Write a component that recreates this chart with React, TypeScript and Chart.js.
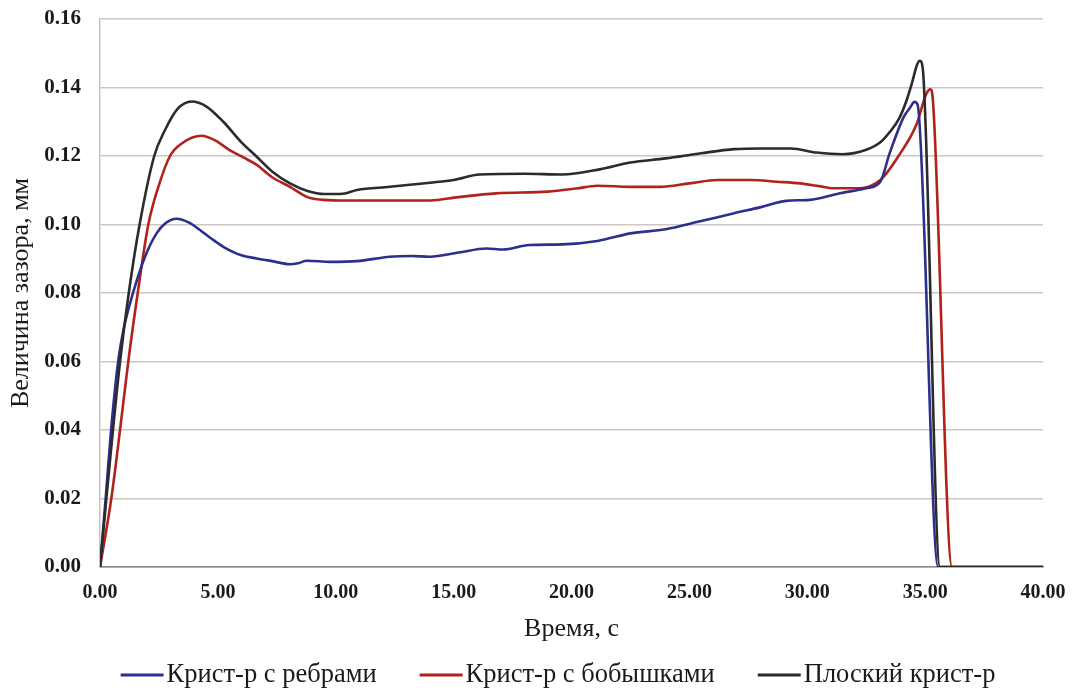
import React, { useEffect, useRef } from 'react';
import { Chart, registerables } from 'chart.js';

Chart.register(...registerables);

const FONT = "'Liberation Serif', 'Times New Roman', Times, serif";

const seriesLabels = ['Крист-р с ребрами', 'Крист-р с бобышками', 'Плоский крист-р'];
const seriesColors = ['#2c2f8c', '#b0221a', '#2b2b2b'];

// Крист-р с ребрами
const ribsTime = [0, 0.24, 0.47, 0.77, 1.02, 1.4, 1.91, 2.4, 2.8, 3.25, 3.8, 4.24, 4.7, 5.23, 6.0, 6.65, 7.3, 8.06, 8.4, 8.77, 9.76, 10.9, 12.3, 13.2, 14.0, 15.2, 16.4, 17.1, 18.2, 19.6, 21.1, 22.5, 24.0, 25.5, 26.9, 28.0, 29.1, 30.1, 31.3, 32.5, 33.1, 33.5, 34.1, 34.35, 34.55, 34.68, 35.55, 40];
const ribsGap = [0, 0.02, 0.04, 0.06, 0.07, 0.08, 0.0906, 0.0974, 0.1005, 0.1017, 0.1005, 0.0984, 0.096, 0.0935, 0.091, 0.0901, 0.0893, 0.0884, 0.0887, 0.0894, 0.0891, 0.0893, 0.0906, 0.0908, 0.0906, 0.0918, 0.093, 0.0927, 0.094, 0.0942, 0.0952, 0.0974, 0.0986, 0.101, 0.1033, 0.105, 0.1069, 0.1072, 0.109, 0.1106, 0.1125, 0.1209, 0.1315, 0.134, 0.1358, 0.135, 0, 0];

// Крист-р с бобышками
const bossTime = [0, 0.48, 0.85, 1.2, 1.6, 2.05, 2.5, 2.97, 3.5, 4.31, 4.9, 5.5, 6.1, 6.65, 7.3, 8.06, 8.8, 9.47, 10.5, 12.3, 14.0, 15.2, 16.8, 19.0, 20.2, 21.1, 22.5, 23.75, 25.0, 26.2, 27.6, 28.7, 29.7, 30.5, 31.1, 32.2, 33.1, 33.9, 34.65, 35.0, 35.12, 35.22, 35.32, 36.14, 40];
const bossGap = [0, 0.02, 0.04, 0.06, 0.08, 0.1, 0.1115, 0.12, 0.1238, 0.1259, 0.1245, 0.1217, 0.1195, 0.1174, 0.1138, 0.111, 0.108, 0.1072, 0.107, 0.107, 0.107, 0.108, 0.1091, 0.1096, 0.1105, 0.1113, 0.111, 0.111, 0.112, 0.113, 0.113, 0.1125, 0.112, 0.1112, 0.1106, 0.1106, 0.113, 0.1203, 0.1295, 0.1373, 0.139, 0.1395, 0.137, 0, 0];

// Плоский крист-р
const flatTime = [0, 0.27, 0.55, 0.85, 1.22, 1.68, 2.3, 2.76, 3.3, 3.89, 4.5, 5.23, 6.0, 6.65, 7.3, 8.06, 8.8, 9.5, 10.3, 10.9, 12.3, 14.0, 15.0, 16.1, 18.0, 19.6, 21.2, 22.5, 24.0, 25.5, 26.9, 28.0, 29.3, 30.4, 31.5, 32.5, 33.1, 33.5, 33.9, 34.2, 34.45, 34.65, 34.78, 34.9, 35.63, 40];
const flatGap = [0, 0.02, 0.04, 0.06, 0.08, 0.1, 0.12, 0.1276, 0.1338, 0.1359, 0.1345, 0.130, 0.124, 0.1198, 0.1155, 0.112, 0.1098, 0.1089, 0.109, 0.1101, 0.111, 0.1122, 0.113, 0.1146, 0.1148, 0.1146, 0.1161, 0.1181, 0.1193, 0.1208, 0.122, 0.1222, 0.1222, 0.121, 0.1205, 0.1218, 0.124, 0.127, 0.131, 0.136, 0.1415, 0.1465, 0.1478, 0.1455, 0, 0];

const xTickValues = [0, 5, 10, 15, 20, 25, 30, 35, 40];
const xTickLabels = ['0.00', '5.00', '10.00', '15.00', '20.00', '25.00', '30.00', '35.00', '40.00'];
const yTickValues = [0, 0.02, 0.04, 0.06, 0.08, 0.1, 0.12, 0.14, 0.16];
const yTickLabels = ['0.00', '0.02', '0.04', '0.06', '0.08', '0.10', '0.12', '0.14', '0.16'];

const xAxisTitle = 'Время, с';
const yAxisTitle = 'Величина зазора, мм';

const toPoints = (xs: number[], ys: number[]) => xs.map((x, i) => ({ x, y: ys[i] }));

const bottomLegend = {
  id: 'bottomLegend',
  afterDraw(chart: any) {
    const ctx = chart.ctx as CanvasRenderingContext2D;
    const lineLen = 43;
    const gap = 3;
    const spacing = 43;
    const centerX = 558;
    const y = 675;
    ctx.save();
    ctx.font = `26.5px ${FONT}`;
    ctx.textBaseline = 'middle';
    ctx.textAlign = 'left';
    const items = chart.data.datasets.map((ds: any) => ({
      label: ds.label as string,
      color: ds.borderColor as string,
      w: ctx.measureText(ds.label).width,
    }));
    const total = items.reduce((s: number, it: any) => s + lineLen + gap + it.w, 0) + spacing * (items.length - 1);
    let x = centerX - total / 2;
    for (const it of items) {
      ctx.strokeStyle = it.color;
      ctx.lineWidth = 3;
      ctx.beginPath();
      ctx.moveTo(x, y);
      ctx.lineTo(x + lineLen, y);
      ctx.stroke();
      ctx.fillStyle = '#1a1a1a';
      ctx.fillText(it.label, x + lineLen + gap, y);
      x += lineLen + gap + it.w + spacing;
    }
    ctx.restore();
  },
};

export default function App() {
  const canvasRef = useRef<HTMLCanvasElement | null>(null);

  useEffect(() => {
    const canvas = canvasRef.current;
    if (!canvas) return;
    const series = [
      { xs: ribsTime, ys: ribsGap, order: 1 },
      { xs: bossTime, ys: bossGap, order: 2 },
      { xs: flatTime, ys: flatGap, order: 0 },
    ];
    const chart = new Chart(canvas, {
      type: 'line',
      data: {
        datasets: series.map((s, i) => ({
          label: seriesLabels[i],
          data: toPoints(s.xs, s.ys),
          borderColor: seriesColors[i],
          backgroundColor: seriesColors[i],
          borderWidth: 2.6,
          pointRadius: 0,
          pointHoverRadius: 0,
          fill: false,
          cubicInterpolationMode: 'monotone' as const,
          order: s.order,
        })),
      },
      plugins: [bottomLegend],
      options: {
        animation: false,
        responsive: false,
        maintainAspectRatio: false,
        layout: { padding: { top: 19, left: 0, right: 32, bottom: 48 } },
        plugins: {
          legend: { display: false },
          tooltip: { enabled: false },
        },
        scales: {
          x: {
            type: 'linear',
            min: 0,
            max: 40,
            afterBuildTicks: (scale: any) => {
              scale.ticks = xTickValues.map((v) => ({ value: v }));
            },
            afterFit: (scale: any) => {
              scale.height = 78;
              scale.paddingLeft = 0;
              scale.paddingRight = 0;
            },
            ticks: {
              autoSkip: false,
              maxRotation: 0,
              padding: 14,
              color: '#1a1a1a',
              font: { family: FONT, size: 20, weight: 'bold' },
              callback: (_v: any, i: number) => xTickLabels[i],
            },
            grid: { display: false, drawTicks: false },
            border: { display: true, color: '#8c8484', width: 1.5 },
            title: {
              display: true,
              text: xAxisTitle,
              color: '#1a1a1a',
              font: { family: FONT, size: 26, weight: 'normal' },
              padding: { top: 0, bottom: 0 },
            },
          },
          y: {
            type: 'linear',
            min: 0,
            max: 0.16,
            afterBuildTicks: (scale: any) => {
              scale.ticks = yTickValues.map((v) => ({ value: v }));
            },
            afterFit: (scale: any) => {
              scale.width = 100;
              scale.paddingTop = 0;
              scale.paddingBottom = 0;
            },
            ticks: {
              autoSkip: false,
              padding: 19,
              color: '#1a1a1a',
              font: { family: FONT, size: 21, weight: 'bold' },
              callback: (_v: any, i: number) => yTickLabels[i],
            },
            grid: { display: true, color: '#cfc6c4', lineWidth: 1.5, drawTicks: false },
            border: { display: true, color: '#c9c2c0', width: 1.5 },
            title: {
              display: true,
              text: yAxisTitle,
              color: '#1a1a1a',
              font: { family: FONT, size: 26, weight: 'normal' },
              padding: { top: 6, bottom: 0 },
            },
          },
        },
      },
    });
    return () => chart.destroy();
  }, []);

  return (
    <div style={{ position: 'fixed', left: 0, top: 0, width: 1075, height: 693, background: '#ffffff' }}>
      <canvas ref={canvasRef} width={1075} height={693} style={{ display: 'block', width: 1075, height: 693 }} />
    </div>
  );
}
